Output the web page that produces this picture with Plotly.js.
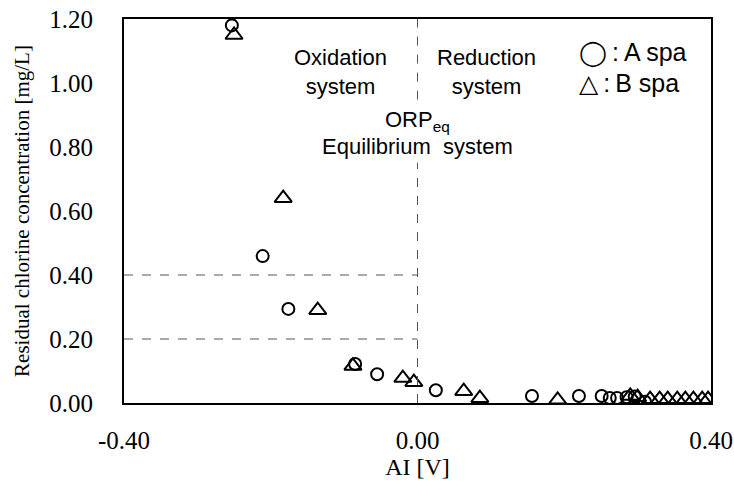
<!DOCTYPE html>
<html>
<head>
<meta charset="utf-8">
<script src="https://cdn.plot.ly/plotly-3.0.1.min.js"></script>
<style>html,body{margin:0;padding:0;background:#fff}#chart{width:734px;height:483px}</style>
</head>
<body>
<div id="chart"></div>
<script>
// A spa (circles)
var aSpaX = [-0.253, -0.211, -0.176, -0.085, -0.055, 0.025, 0.156, 0.220, 0.251, 0.262, 0.272, 0.285, 0.296, 0.310];
var aSpaY = [1.180, 0.459, 0.294, 0.122, 0.090, 0.040, 0.022, 0.022, 0.022, 0.016, 0.016, 0.018, 0.020, 0.004];
// B spa (triangles)
var bSpaX = [-0.250, -0.183, -0.136, -0.088, -0.020, -0.005, 0.063, 0.085, 0.191, 0.290, 0.300, 0.317, 0.330, 0.341, 0.354, 0.365, 0.376, 0.388, 0.396];
var bSpaY = [1.150, 0.640, 0.290, 0.116, 0.078, 0.065, 0.037, 0.015, 0.010, 0.022, 0.018, 0.012, 0.012, 0.012, 0.012, 0.012, 0.012, 0.012, 0.012];
// axis ticks
var xTicks = [-0.4, 0.0, 0.4];
var xTickText = ["-0.40", "0.00", "0.40"];
var yTicks = [0, 0.2, 0.4, 0.6, 0.8, 1.0, 1.2];
var yTickText = ["0.00", "0.20", "0.40", "0.60", "0.80", "1.00", "1.20"];
// reference levels
var refLevels = [0.2, 0.4];
var orpEq = 0.0;

var serif = "Liberation Serif, Times New Roman, serif";
var sans = "Liberation Sans, Arial, DejaVu Sans, sans-serif";

var traces = [
  {x: aSpaX, y: aSpaY, type: 'scatter', mode: 'markers', name: 'A spa',
   marker: {symbol: 'circle-open', size: 12, color: '#000', line: {width: 2, color: '#000'}}},
  {x: bSpaX, y: bSpaY, type: 'scatter', mode: 'markers', name: 'B spa',
   marker: {symbol: 'triangle-up-open', size: 15, color: '#000', line: {width: 2, color: '#000'}}}
];

var shapes = [];
refLevels.forEach(function(v){
  shapes.push({type: 'line', xref: 'x', yref: 'y', x0: -0.4, x1: orpEq, y0: v, y1: v,
    line: {color: '#555', width: 1, dash: 'dash'}});
});
shapes.push({type: 'line', xref: 'x', yref: 'paper', x0: orpEq, x1: orpEq, y0: 0, y1: 0.626,
  line: {color: '#555', width: 1, dash: 'dash'}});
shapes.push({type: 'line', xref: 'x', yref: 'paper', x0: orpEq, x1: orpEq, y0: 0.79, y1: 1,
  line: {color: '#555', width: 1, dash: 'dash'}});

var annFont = {family: sans, size: 22, color: '#000'};
function px(x){ return (x - 124) / 587; }
function py(y){ return 1 - (y - 19) / 384; }
var annotations = [
  {x: 340, y: 72, text: 'Oxidation<br>system'},
  {x: 486, y: 72, text: 'Reduction<br>system'},
  {x: 418, y: 121, text: 'ORP<sub>eq</sub>'},
  {x: 417, y: 147, text: 'Equilibrium\u00a0\u00a0system'}
].map(function(a){
  return {xref: 'paper', yref: 'paper', x: px(a.x), y: py(a.y),
    text: a.text, showarrow: false, font: annFont, align: 'center', xanchor: 'center', yanchor: 'middle'};
});
annotations.push({xref: 'paper', yref: 'paper', x: px(578), y: py(53),
  text: '<span style="font-family:DejaVu Sans">\u25EF</span>\u2009:\u2009A spa', showarrow: false, xanchor: 'left', yanchor: 'middle',
  font: {family: sans, size: 25, color: '#000'}, borderpad: 0});
annotations.push({xref: 'paper', yref: 'paper', x: px(578), y: py(83),
  text: '\u25B3\u2009:\u2009B spa', showarrow: false, xanchor: 'left', yanchor: 'middle',
  font: {family: sans, size: 25, color: '#000'}, borderpad: 0});

var layout = {
  width: 734, height: 483,
  margin: {l: 124, r: 23, t: 19, b: 80},
  paper_bgcolor: '#fff', plot_bgcolor: '#fff',
  showlegend: false,
  xaxis: {range: [-0.4, 0.4], tickvals: xTicks, ticktext: xTickText,
    showgrid: false, zeroline: false, showline: true, mirror: true, linecolor: '#000', linewidth: 2,
    ticks: 'outside', ticklen: 14, tickcolor: 'rgba(0,0,0,0)', tickwidth: 1,
    tickfont: {family: serif, size: 25, color: '#000'},
    title: {text: 'AI [V]', font: {family: serif, size: 24, color: '#000'}, standoff: 0}},
  xaxis2: {overlaying: 'x', range: [-0.4, 0.4], tickvals: xTicks, showticklabels: false,
    showgrid: false, zeroline: false, showline: false,
    ticks: 'inside', ticklen: 8, tickcolor: '#999', tickwidth: 1},
  yaxis: {range: [0, 1.2], tickvals: yTicks, ticktext: yTickText,
    showgrid: false, zeroline: false, showline: true, mirror: true, linecolor: '#000', linewidth: 2,
    ticks: 'outside', ticklen: 24, tickcolor: 'rgba(0,0,0,0)', tickwidth: 1,
    tickfont: {family: serif, size: 25, color: '#000'},
    title: {text: 'Residual chlorine concentration [mg/L]', font: {family: serif, size: 21, color: '#000'}, standoff: 14}},
  yaxis2: {overlaying: 'y', range: [0, 1.2], tickvals: yTicks, showticklabels: false,
    showgrid: false, zeroline: false, showline: false,
    ticks: 'inside', ticklen: 8, tickcolor: '#999', tickwidth: 1},
  shapes: shapes,
  annotations: annotations
};

Plotly.newPlot('chart', traces, layout, {displayModeBar: false, staticPlot: true});
</script>
</body>
</html>
